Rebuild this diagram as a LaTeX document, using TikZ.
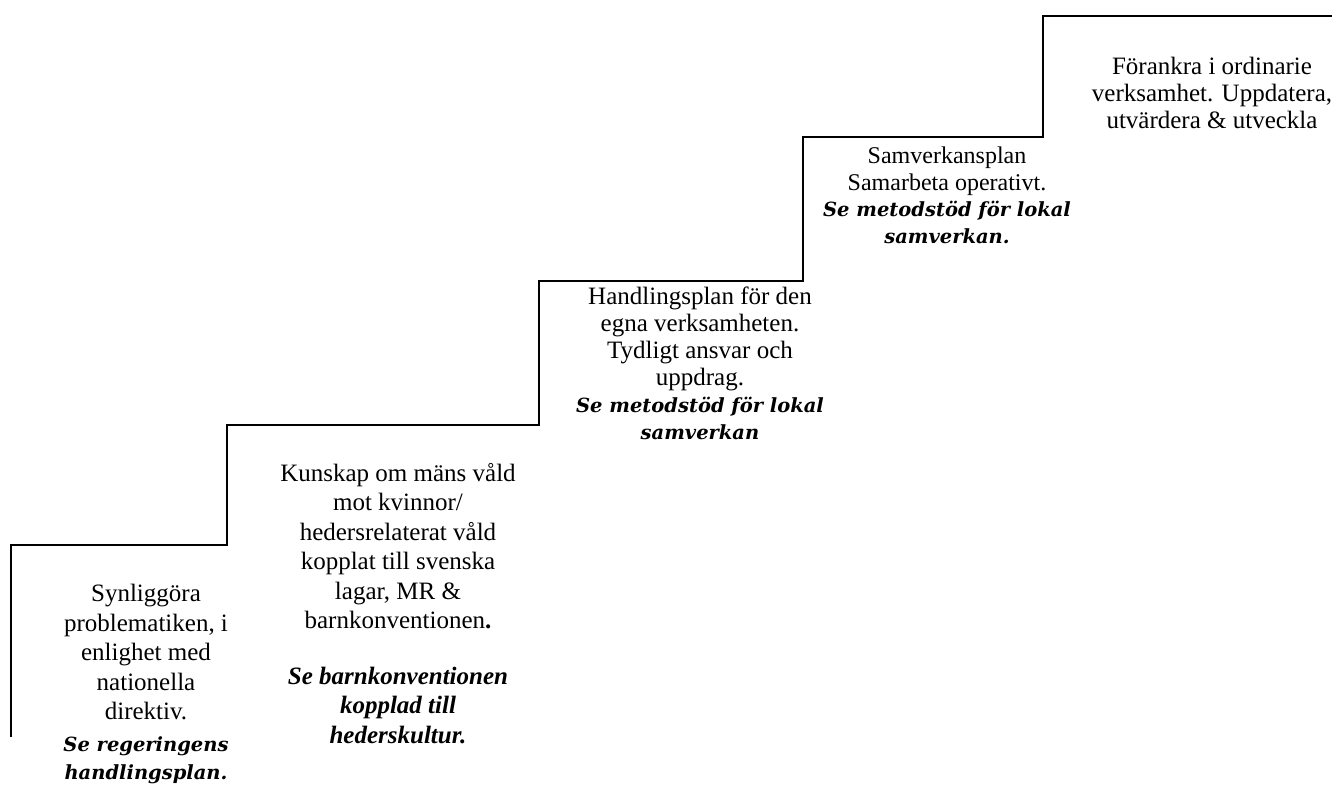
\documentclass[tikz,border=0pt]{standalone}
\usepackage{fontspec}
\setmainfont{Liberation Serif}
\newfontfamily\bkfont{DejaVu Serif}
\newcommand\bkt[1]{{\bkfont\bfseries\itshape\fontsize{19.5}{24}\selectfont #1}}
\begin{document}
\begin{tikzpicture}[x=1pt,y=-1pt,
  stair/.style={line width=2pt, line join=miter, black},
  gtext/.style={align=center, inner sep=0pt, anchor=north, font=\fontsize{25}{#1}\selectfont},
  ttext/.style={align=center, inner sep=0pt, anchor=north, font=\fontsize{25}{29.5}\selectfont}]
\useasboundingbox (0,0) rectangle (1342,785);
\coordinate (s0) at (11,737);
\coordinate (s1) at (11,545);
\coordinate (s2) at (227,545);
\coordinate (s3) at (227,425);
\coordinate (s4) at (539,425);
\coordinate (s5) at (539,281);
\coordinate (s6) at (803,281);
\coordinate (s7) at (803,137);
\coordinate (s8) at (1043,137);
\coordinate (s9) at (1043,16);
\coordinate (s10) at (1332,16);
\draw[stair] (s0) -- (s1) -- (s2) -- (s3) -- (s4) -- (s5) -- (s6) -- (s7) -- (s8) -- (s9) -- (s10);

\node[gtext=29.5] (t1) at (146,584) {Synliggöra\\problematiken, i\\enlighet med\\nationella\\direktiv.\\[2pt]\bkt{Se regeringens}\\[-1pt]\bkt{handlingsplan.}};

\node[ttext] (t2) at (398,463) {Kunskap om mäns våld\\mot kvinnor/\\hedersrelaterat våld\\kopplat till svenska\\lagar, MR \&\\barnkonventionen{\bfseries.}\\[26pt]{\bfseries\itshape Se barnkonventionen}\\{\bfseries\itshape kopplad till}\\{\bfseries\itshape hederskultur.}};

\node[gtext=27] (t3) at (700,287) {Handlingsplan för den\\egna verksamheten.\\Tydligt ansvar och\\uppdrag.\\\bkt{Se metodstöd för lokal}\\\bkt{samverkan}};

\node[gtext=26.5, font=\fontsize{24}{26.5}\selectfont] (t4) at (947,147) {Samverkansplan\\Samarbeta operativt.\\\bkt{Se metodstöd för lokal}\\\bkt{samverkan.}};

\node[gtext=27] (t5) at (1212,57) {Förankra i ordinarie\\verksamhet. Uppdatera,\\utvärdera \& utveckla};
\end{tikzpicture}
\end{document}
